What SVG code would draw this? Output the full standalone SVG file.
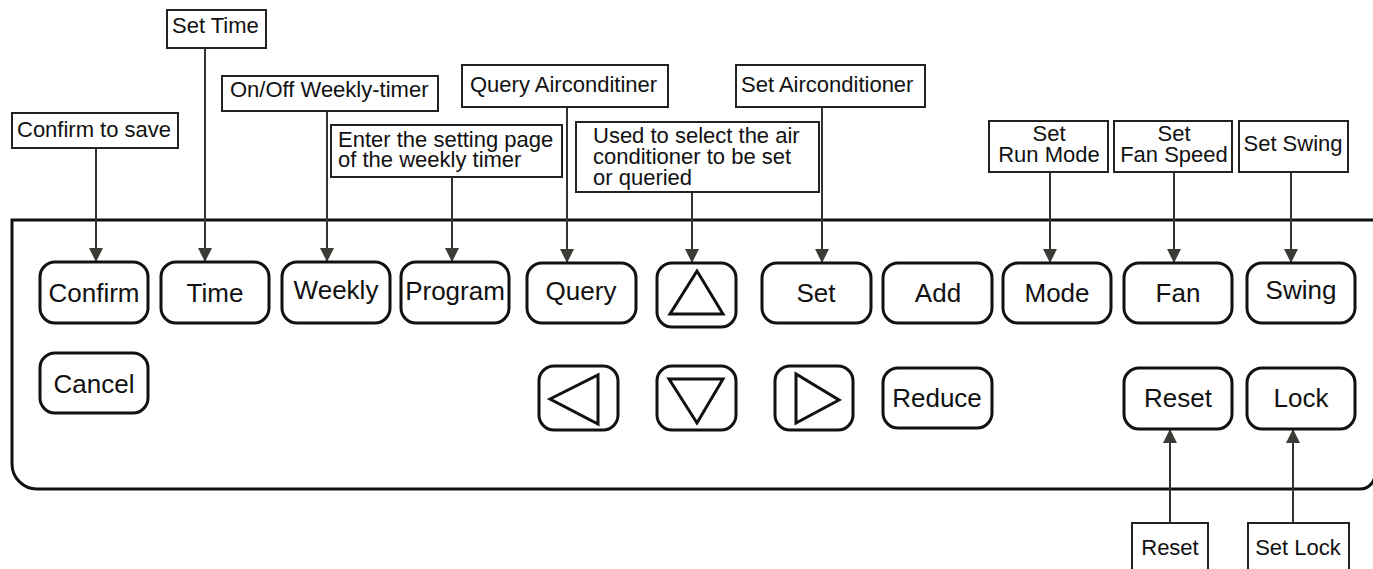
<svg xmlns="http://www.w3.org/2000/svg" width="1373" height="569" viewBox="0 0 1373 569">
<style>
.btn{fill:#fff;stroke:#111;stroke-width:3}
.bt{font-family:"Liberation Sans",Arial,sans-serif;font-size:26px;fill:#111;text-anchor:middle}
.lb{fill:#fff;stroke:#222;stroke-width:2}
.lt{font-family:"Liberation Sans",Arial,sans-serif;font-size:22px;fill:#111}
.c{text-anchor:middle}
.tri{fill:none;stroke:#111;stroke-width:3}
.con{stroke:#333;stroke-width:2;fill:none;marker-end:url(#ah)}
</style>
<defs>
<marker id="ah" markerUnits="userSpaceOnUse" markerWidth="14" markerHeight="14" viewBox="0 0 14 14" refX="14" refY="7" orient="auto">
<path d="M0,0 L14,7 L0,14 Z" fill="#3a3d36"/>
</marker>
</defs>
<rect width="1373" height="569" fill="#fff"/>
<path id="panel" d="M12,220 L1375,220 L1375,474 A15,15 0 0 1 1360,489 L37,489 A25,25 0 0 1 12,464 Z" fill="none" stroke="#111" stroke-width="3"/>

<g id="connectors">
<line class="con" x1="96" y1="148" x2="96" y2="262"/>
<line class="con" x1="205" y1="48" x2="205" y2="262"/>
<line class="con" x1="327" y1="111" x2="327" y2="262"/>
<line class="con" x1="452" y1="177" x2="452" y2="262"/>
<line class="con" x1="567" y1="107" x2="567" y2="263"/>
<line class="con" x1="692" y1="192" x2="692" y2="263"/>
<line class="con" x1="822" y1="107" x2="822" y2="263"/>
<line class="con" x1="1050" y1="172" x2="1050" y2="263"/>
<line class="con" x1="1174" y1="172" x2="1174" y2="263"/>
<line class="con" x1="1291" y1="172" x2="1291" y2="263"/>
<line class="con" x1="1170" y1="523" x2="1170" y2="429"/>
<line class="con" x1="1293" y1="523" x2="1293" y2="429"/>
</g>

<g id="lbl-settime"><rect class="lb" x="167" y="10" width="99" height="38"/><text class="lt" x="172" y="33">Set Time</text></g>
<g id="lbl-onoff"><rect class="lb" x="222" y="76" width="216" height="35"/><text class="lt" x="230" y="97">On/Off Weekly-timer</text></g>
<g id="lbl-confirm"><rect class="lb" x="12" y="113" width="166" height="35"/><text class="lt" x="17" y="137">Confirm to save</text></g>
<g id="lbl-enter"><rect class="lb" x="331" y="125" width="231" height="52"/><text class="lt" x="338" y="147">Enter the setting page</text><text class="lt" x="338" y="167">of the weekly timer</text></g>
<g id="lbl-query"><rect class="lb" x="462" y="65" width="206" height="42"/><text class="lt" x="470" y="92">Query Airconditiner</text></g>
<g id="lbl-used"><rect class="lb" x="576" y="122" width="243" height="70"/><text class="lt" x="593" y="143">Used to select the air</text><text class="lt" x="593" y="164">conditioner to be set</text><text class="lt" x="593" y="185">or queried</text></g>
<g id="lbl-setac"><rect class="lb" x="736" y="65" width="189" height="42"/><text class="lt" x="741" y="92">Set Airconditioner</text></g>
<g id="lbl-mode"><rect class="lb" x="989" y="121" width="119" height="51"/><text class="lt c" x="1049" y="141">Set</text><text class="lt c" x="1049" y="162">Run Mode</text></g>
<g id="lbl-fan"><rect class="lb" x="1114" y="121" width="118" height="51"/><text class="lt c" x="1174" y="141">Set</text><text class="lt c" x="1174" y="162">Fan Speed</text></g>
<g id="lbl-swing"><rect class="lb" x="1239" y="121" width="109" height="51"/><text class="lt c" x="1293" y="151">Set Swing</text></g>
<g id="lbl-reset"><rect class="lb" x="1132" y="523" width="76" height="60"/><text class="lt c" x="1170" y="555">Reset</text></g>
<g id="lbl-lock"><rect class="lb" x="1248" y="523" width="101" height="60"/><text class="lt c" x="1298" y="555">Set Lock</text></g>

<g id="btn-confirm"><rect class="btn" x="40" y="262" width="108" height="61" rx="15"/><text class="bt" x="94" y="302">Confirm</text></g>
<g id="btn-time"><rect class="btn" x="161" y="262" width="108" height="61" rx="15"/><text class="bt" x="215" y="302">Time</text></g>
<g id="btn-weekly"><rect class="btn" x="282" y="262" width="108" height="61" rx="15"/><text class="bt" x="336" y="299">Weekly</text></g>
<g id="btn-program"><rect class="btn" x="401" y="262" width="108" height="61" rx="15"/><text class="bt" x="455" y="300">Program</text></g>
<g id="btn-query"><rect class="btn" x="527" y="263" width="109" height="60" rx="15"/><text class="bt" x="581" y="300">Query</text></g>
<g id="btn-up"><rect class="btn" x="657" y="263" width="79" height="64" rx="15"/><polygon class="tri" points="697,271 670,314 723,314"/></g>
<g id="btn-set"><rect class="btn" x="762" y="263" width="109" height="60" rx="15"/><text class="bt" x="816" y="302">Set</text></g>
<g id="btn-add"><rect class="btn" x="883" y="263" width="109" height="60" rx="15"/><text class="bt" x="938" y="302">Add</text></g>
<g id="btn-mode"><rect class="btn" x="1003" y="263" width="108" height="60" rx="15"/><text class="bt" x="1057" y="302">Mode</text></g>
<g id="btn-fan"><rect class="btn" x="1124" y="263" width="108" height="60" rx="15"/><text class="bt" x="1178" y="302">Fan</text></g>
<g id="btn-swing"><rect class="btn" x="1247" y="263" width="108" height="60" rx="15"/><text class="bt" x="1301" y="299">Swing</text></g>

<g id="btn-cancel"><rect class="btn" x="40" y="353" width="108" height="60" rx="15"/><text class="bt" x="94" y="393">Cancel</text></g>
<g id="btn-left"><rect class="btn" x="539" y="366" width="79" height="64" rx="15"/><polygon class="tri" points="550,399 598,375 598,424"/></g>
<g id="btn-down"><rect class="btn" x="657" y="366" width="79" height="64" rx="15"/><polygon class="tri" points="669,379 723,379 697,423"/></g>
<g id="btn-right"><rect class="btn" x="775" y="366" width="78" height="64" rx="15"/><polygon class="tri" points="796,374 796,423 839,400"/></g>
<g id="btn-reduce"><rect class="btn" x="883" y="368" width="109" height="60" rx="15"/><text class="bt" x="937" y="407">Reduce</text></g>
<g id="btn-reset"><rect class="btn" x="1124" y="368" width="108" height="61" rx="15"/><text class="bt" x="1178" y="407">Reset</text></g>
<g id="btn-lock"><rect class="btn" x="1247" y="368" width="108" height="61" rx="15"/><text class="bt" x="1301" y="407">Lock</text></g>
</svg>
